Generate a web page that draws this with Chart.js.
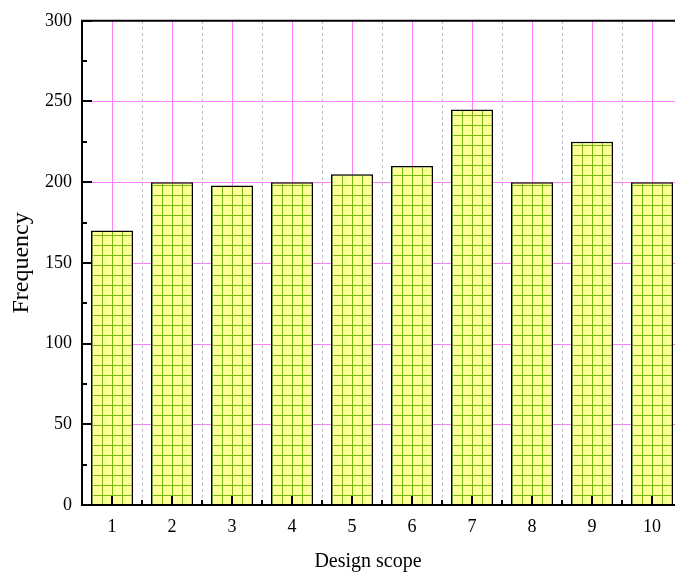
<!DOCTYPE html>
<html>
<head>
<meta charset="utf-8">
<script src="https://cdn.jsdelivr.net/npm/chart.js@4.4.1/dist/chart.umd.min.js"></script>
<style>
html,body{margin:0;padding:0;overflow:hidden;background:#fff;width:675px;height:575px;}
#wrap{width:675px;height:575px;overflow:hidden;position:relative;}
canvas{position:absolute;left:0;top:0;}
</style>
</head>
<body>
<div id="wrap"><canvas id="c" width="690" height="575"></canvas></div>
<script>
const categories = ['1','2','3','4','5','6','7','8','9','10'];
const frequency = [170, 200, 198, 200, 205, 210, 245, 200, 225, 200];
const yTicks = [0, 50, 100, 150, 200, 250, 300];
const xTitle = 'Design scope';
const yTitle = 'Frequency';

function makePattern(ctx){
  const p = document.createElement('canvas');
  p.width = 10; p.height = 10;
  const g = p.getContext('2d');
  g.fillStyle = '#ffff99';
  g.fillRect(0,0,10,10);
  g.fillStyle = '#77bb11';
  g.fillRect(2,0,1,10);
  g.fillRect(0,5,10,1);
  return ctx.createPattern(p,'repeat');
}

const canvas = document.getElementById('c');
const ctx0 = canvas.getContext('2d');
const pattern = makePattern(ctx0);

const serif = "'Liberation Serif', 'Times New Roman', serif";

const decor = {
  id: 'decor',
  beforeDatasetsDraw(chart){
    const {ctx, chartArea:a, scales:{x, y}} = chart;
    ctx.save();
    ctx.lineWidth = 1;
    ctx.strokeStyle = '#ff80ff';
    yTicks.forEach(v => {
      if (v === 0 || v === 300) return;
      const py = Math.round(y.getPixelForValue(v)) + 0.5;
      ctx.beginPath(); ctx.moveTo(a.left, py); ctx.lineTo(a.right, py); ctx.stroke();
    });
    categories.forEach((c,i) => {
      const px = Math.round(x.getPixelForValue(i)) + 0.5;
      ctx.beginPath(); ctx.moveTo(px, a.top); ctx.lineTo(px, a.bottom); ctx.stroke();
    });
    ctx.strokeStyle = '#bbbbbb';
    ctx.setLineDash([3,3]);
    for (let i = 0; i < categories.length - 1; i++){
      const px = Math.round((x.getPixelForValue(i) + x.getPixelForValue(i+1))/2) + 0.5;
      ctx.beginPath(); ctx.moveTo(px, a.top); ctx.lineTo(px, a.bottom); ctx.stroke();
    }
    ctx.restore();
  },
  afterDatasetsDraw(chart){
    const {ctx, chartArea:a, scales:{x, y}} = chart;
    ctx.save();
    ctx.strokeStyle = '#000';
    ctx.lineWidth = 2;
    ctx.beginPath();
    ctx.moveTo(a.left, a.top); ctx.lineTo(a.left, a.bottom + 1);
    ctx.moveTo(a.left - 1, a.bottom); ctx.lineTo(a.right, a.bottom);
    ctx.moveTo(a.left - 1, a.top); ctx.lineTo(a.right, a.top);
    ctx.stroke();
    for (let v = 0; v <= 300; v += 25){
      const py = Math.round(y.getPixelForValue(v));
      const len = (v % 50 === 0) ? 10 : 5;
      ctx.beginPath(); ctx.moveTo(a.left, py); ctx.lineTo(a.left + len, py); ctx.stroke();
    }
    categories.forEach((c,i) => {
      const px = Math.round(x.getPixelForValue(i));
      ctx.beginPath(); ctx.moveTo(px, a.bottom); ctx.lineTo(px, a.bottom - 9); ctx.stroke();
      if (i < categories.length - 1){
        const bx = Math.round((x.getPixelForValue(i) + x.getPixelForValue(i+1))/2);
        ctx.beginPath(); ctx.moveTo(bx, a.bottom); ctx.lineTo(bx, a.bottom - 5); ctx.stroke();
      }
    });
    ctx.fillStyle = '#000';
    ctx.textAlign = 'center';
    ctx.textBaseline = 'middle';
    ctx.font = '20px ' + serif;
    ctx.fillText(xTitle, 368, 562);
    ctx.translate(22, (a.top + a.bottom)/2);
    ctx.rotate(-Math.PI/2);
    ctx.font = '24px ' + serif;
    ctx.fillText(yTitle, 0, 0);
    ctx.restore();
  }
};

new Chart(canvas, {
  type: 'bar',
  data: {
    labels: categories,
    datasets: [{
      data: frequency,
      backgroundColor: pattern,
      borderColor: '#000',
      borderWidth: 1.5,
      borderSkipped: 'bottom',
      categoryPercentage: 1,
      barPercentage: 0.7
    }]
  },
  options: {
    responsive: false,
    animation: false,
    devicePixelRatio: 1,
    layout: { padding: { top: 20, right: 8, left: 0, bottom: 0 } },
    plugins: { legend: { display: false }, tooltip: { enabled: false } },
    scales: {
      x: {
        type: 'category',
        offset: true,
        grid: { display: false, drawTicks: false },
        border: { display: false },
        ticks: { color: '#000', font: { family: serif, size: 18 }, padding: 11, maxRotation: 0, autoSkip: false },
        afterFit(s){ s.height = 70; }
      },
      y: {
        min: 0, max: 300,
        afterBuildTicks(s){ s.ticks = yTicks.map(v => ({value: v})); },
        grid: { display: false, drawTicks: false },
        border: { display: false },
        ticks: { color: '#000', font: { family: serif, size: 18 }, padding: 10 },
        afterFit(s){ s.width = 82; }
      }
    }
  },
  plugins: [decor]
});
</script>
</body>
</html>
